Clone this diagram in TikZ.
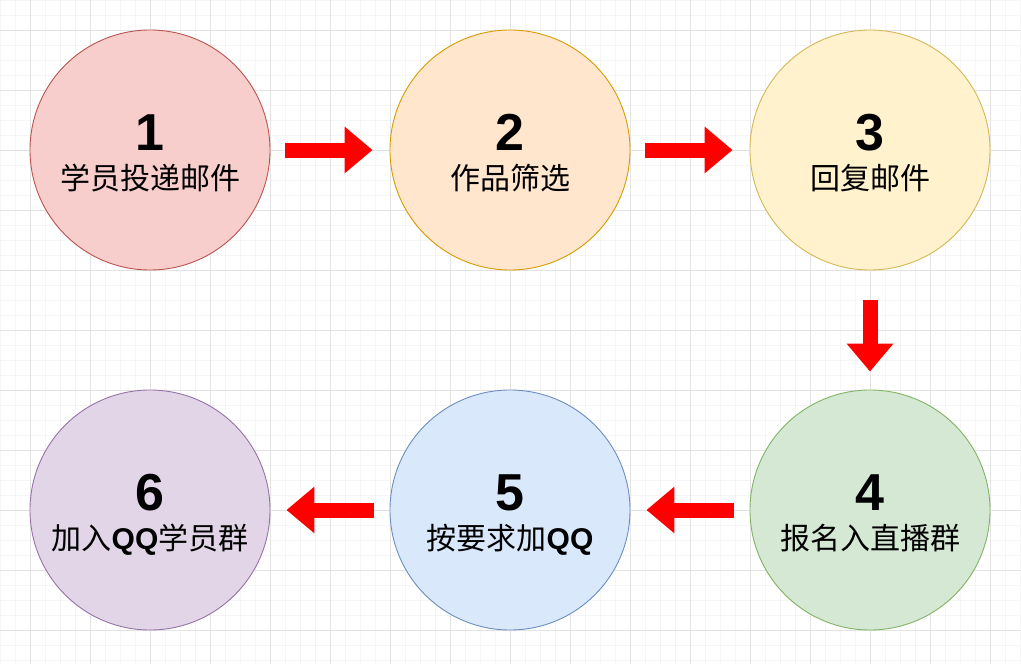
\documentclass[tikz,border=0pt]{standalone}
\usepackage{fontspec}
\setmainfont{Liberation Sans}
\newfontfamily\cjk{Noto Sans CJK SC}
\usetikzlibrary{positioning,arrows.meta}
\definecolor{minorgrid}{HTML}{F5F5F5}
\definecolor{majorgrid}{HTML}{E3E3E3}
\definecolor{fillA}{HTML}{F8CECC}\definecolor{lineA}{HTML}{B85450}
\definecolor{fillB}{HTML}{FFE6CC}\definecolor{lineB}{HTML}{D79B00}
\definecolor{fillC}{HTML}{FFF2CC}\definecolor{lineC}{HTML}{D6B656}
\definecolor{fillD}{HTML}{D5E8D4}\definecolor{lineD}{HTML}{82B366}
\definecolor{fillE}{HTML}{DAE8FC}\definecolor{lineE}{HTML}{6C8EBF}
\definecolor{fillF}{HTML}{E1D5E7}\definecolor{lineF}{HTML}{9673A6}
\newcommand{\zh}[1]{{\cjk #1}}

\begin{document}
\begin{tikzpicture}[x=1pt, y=-1pt,
		every node/.style={on grid},
		stage/.style={circle, minimum size=240pt, inner sep=0pt, line width=0.9pt},
		num/.style={anchor=base, font=\fontsize{52}{60}\selectfont\bfseries},
		caption/.style={anchor=base, font=\fontsize{30}{36}\selectfont},
		flow/.style={draw=red, line width=15pt, shorten <=15pt, shorten >=17pt,
			-{Triangle[length=28pt,width=45pt]}},
		node distance=360pt]
	\useasboundingbox (0,0) rectangle (1021,664);
	\fill[white] (0,0) rectangle (1021,664);
	% background grid
	\foreach \x in {0,15,...,1020} \draw[minorgrid, line width=0.8pt] (\x,0) -- (\x,664);
	\foreach \y in {0,15,...,660} \draw[minorgrid, line width=0.8pt] (0,\y) -- (1021,\y);
	\foreach \x in {30,90,...,990} \draw[majorgrid, line width=0.8pt] (\x,0) -- (\x,664);
	\foreach \y in {30,90,...,630} \draw[majorgrid, line width=0.8pt] (0,\y) -- (1021,\y);

	\node[stage, fill=fillA, draw=lineA] (c1) at (150,150) {};
	\node[stage, fill=fillB, draw=lineB, right= of c1] (c2) {};
	\node[stage, fill=fillC, draw=lineC, right= of c2] (c3) {};
	\node[stage, fill=fillD, draw=lineD, below= of c3] (c4) {};
	\node[stage, fill=fillE, draw=lineE, left= of c4] (c5) {};
	\node[stage, fill=fillF, draw=lineF, left= of c5] (c6) {};

	\node[num] (n1) at (c1.center) {1};
	\node[num] (n2) at (c2.center) {2};
	\node[num] (n3) at (c3.center) {3};
	\node[num] (n4) at (c4.center) {4};
	\node[num] (n5) at (c5.center) {5};
	\node[num] (n6) at (c6.center) {6};

	\node[caption] (t1) at ([yshift=-39pt]c1.center) {\zh{学员投递邮件}};
	\node[caption] (t2) at ([yshift=-39pt]c2.center) {\zh{作品筛选}};
	\node[caption] (t3) at ([yshift=-39pt]c3.center) {\zh{回复邮件}};
	\node[caption] (t4) at ([yshift=-39pt]c4.center) {\zh{报名入直播群}};
	\node[caption] (t5) at ([yshift=-39pt]c5.center) {\zh{按要求加}\textbf{QQ}};
	\node[caption] (t6) at ([yshift=-39pt]c6.center) {\zh{加入}\textbf{QQ}\zh{学员群}};

	\draw[flow] (c1) -- (c2);
	\draw[flow] (c2) -- (c3);
	\draw[flow, shorten <=30pt, shorten >=18pt] (c3) -- (c4);
	\draw[flow, shorten <=16pt, shorten >=16pt] (c4) -- (c5);
	\draw[flow, shorten <=16pt, shorten >=16pt] (c5) -- (c6);
\end{tikzpicture}
\end{document}
